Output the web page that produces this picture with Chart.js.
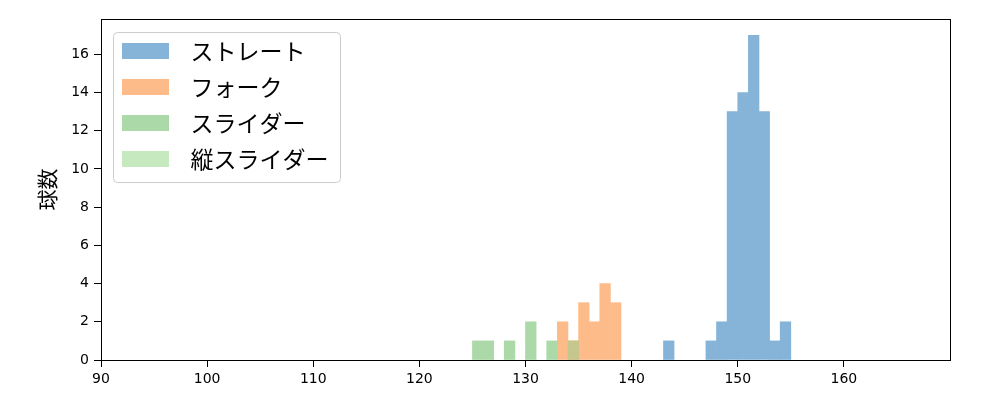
<!DOCTYPE html>
<html><head><meta charset="utf-8">
<script src="https://cdn.jsdelivr.net/npm/chart.js@4/dist/chart.umd.min.js"></script>
<style>html,body{margin:0;padding:0;background:#fff}#wrap{width:1000px;height:400px;position:relative}</style>
</head><body><div id="wrap"><canvas id="c" width="1000" height="400"></canvas></div>
<script>
// ---- data ----
const seriesNames = ['ストレート', 'フォーク', 'スライダー', '縦スライダー'];
const binWidth = 1;
const straightBins = [143, 147, 148, 149, 150, 151, 152, 153, 154];
const straightCounts = [1, 1, 2, 13, 14, 17, 13, 1, 2];
const forkBins = [133, 134, 135, 136, 137, 138];
const forkCounts = [2, 1, 3, 2, 4, 3];
const sliderBins = [125, 126, 128, 130, 132, 134];
const sliderCounts = [1, 1, 1, 2, 1, 1];
const vSliderBins = [];
const vSliderCounts = [];
const xTicks = [90, 100, 110, 120, 130, 140, 150, 160];
const yTicks = [0, 2, 4, 6, 8, 10, 12, 14, 16];
const xRange = [90, 170];
const yRange = [0, 17.85];
const yTitle = '球数';

// ---- styles ----
const colors = ['#85b4d8', '#fdbb8a', '#acd9a8', '#c7e9c0'];
const overlapColor = '#c5c78f';
const drawOrder = [3, 2, 1, 0];
const legendFont = {family: "'Noto Sans CJK JP', sans-serif", size: 23};
const tickFont = {family: "'DejaVu Sans', sans-serif", size: 14};
const LEG_PAD = 13, HANDLE_W = 47, HANDLE_H = 16, HANDLE_SLOT = 57;

function toPoints(bins, counts) {
  return bins.map((b, i) => ({x: b + binWidth / 2, y: counts[i]}));
}
const allBins = [[straightBins, straightCounts], [forkBins, forkCounts], [sliderBins, sliderCounts], [vSliderBins, vSliderCounts]];

function handleImage(color) {
  const cv = document.createElement('canvas');
  cv.width = HANDLE_SLOT; cv.height = HANDLE_H;
  const c = cv.getContext('2d');
  c.fillStyle = color;
  c.fillRect(0, 0, HANDLE_W, HANDLE_H);
  return cv;
}
const handles = colors.map(handleImage);

// colour for a bar: where a later series overlaps an earlier one, show the blended tone
function barColor(i) {
  return (ctx) => {
    const raw = ctx.raw;
    if (!raw) return colors[i];
    for (let j = 0; j < i; j++) {
      const idx = allBins[j][0].indexOf(raw.x - binWidth / 2);
      if (idx >= 0 && allBins[j][1][idx] > 0) return overlapColor;
    }
    return colors[i];
  };
}

const legendShift = {
  id: 'legendShift',
  afterLayout(chart) {
    const l = chart.legend, a = chart.chartArea;
    if (l) {
      const w = l.width, h = l.height;
      l.left = a.left + 8; l.top = a.top + 7.5;
      l.right = l.left + w; l.bottom = l.top + h;
    }
  }
};
const legendFrame = {
  id: 'legendFrame',
  beforeDraw(chart) {
    const l = chart.legend, ctx = chart.ctx;
    if (!l) return;
    ctx.save();
    ctx.font = legendFont.size + 'px ' + legendFont.family;
    let maxW = 0;
    seriesNames.forEach(n => { maxW = Math.max(maxW, ctx.measureText(n).width); });
    const hx = l.left + LEG_PAD;
    const r1 = l.top + LEG_PAD + legendFont.size / 2;
    const rowH = legendFont.size + LEG_PAD;
    const x0 = hx - 9, y0 = r1 - 19;
    const x1 = hx + HANDLE_SLOT + legendFont.size / 2 + maxW + 11;
    const y1 = r1 + rowH * (seriesNames.length - 1) + 23;
    ctx.beginPath();
    ctx.roundRect(Math.round(x0) + 0.5, Math.round(y0) + 0.5, Math.round(x1 - x0), Math.round(y1 - y0), 4);
    ctx.fillStyle = 'rgba(255,255,255,0.8)';
    ctx.fill();
    ctx.strokeStyle = '#cccccc';
    ctx.lineWidth = 1;
    ctx.stroke();
    ctx.restore();
  }
};
// top and right spines (left/bottom are the axis borders)
const frame = {
  id: 'frame',
  afterDatasetsDraw(chart) {
    const a = chart.chartArea, ctx = chart.ctx;
    const l = Math.round(a.left), r = Math.round(a.right), t = Math.round(a.top), b = Math.round(a.bottom);
    ctx.save();
    ctx.strokeStyle = '#000';
    ctx.lineWidth = 1;
    ctx.beginPath();
    ctx.moveTo(l, t + 0.5);
    ctx.lineTo(r + 1, t + 0.5);
    ctx.moveTo(r + 0.5, t);
    ctx.lineTo(r + 0.5, b + 1);
    ctx.stroke();
    ctx.restore();
  }
};

new Chart(document.getElementById('c'), {
  type: 'bar',
  data: {
    datasets: seriesNames.map((name, i) => ({
      label: name,
      data: toPoints(allBins[i][0], allBins[i][1]),
      backgroundColor: barColor(i),
      borderWidth: 0,
      barPercentage: 1,
      categoryPercentage: 1,
      grouped: false,
      order: drawOrder[i]
    }))
  },
  options: {
    responsive: false,
    animation: false,
    layout: {padding: {left: 0, right: 50, top: 19, bottom: 0}},
    plugins: {
      tooltip: {enabled: false},
      legend: {
        position: 'chartArea',
        align: 'start',
        labels: {
          usePointStyle: true,
          pointStyleWidth: HANDLE_SLOT,
          padding: LEG_PAD,
          color: '#000',
          font: legendFont,
          generateLabels: (chart) => seriesNames.map((n, i) => ({
            text: n, fillStyle: colors[i], strokeStyle: 'rgba(0,0,0,0)', lineWidth: 0,
            pointStyle: handles[i], hidden: false, datasetIndex: i
          }))
        }
      }
    },
    scales: {
      x: {
        type: 'linear',
        min: xRange[0], max: xRange[1],
        offset: false,
        afterBuildTicks: s => { s.ticks = xTicks.map(v => ({value: v})); },
        afterFit: s => { s.height = 40; },
        ticks: {color: '#000', font: tickFont, padding: 4, maxRotation: 0, autoSkip: false, callback: v => String(v)},
        grid: {display: true, offset: false, drawOnChartArea: false, drawTicks: true, tickLength: 7, tickColor: '#000', tickWidth: 1},
        border: {display: true, color: '#000', width: 1}
      },
      y: {
        type: 'linear',
        min: yRange[0], max: yRange[1],
        afterBuildTicks: s => { s.ticks = yTicks.map(v => ({value: v})); },
        afterFit: s => { s.width = 101; },
        ticks: {color: '#000', font: tickFont, padding: 5, autoSkip: false, callback: v => String(v)},
        grid: {display: true, drawOnChartArea: false, drawTicks: true, tickLength: 7, tickColor: '#000', tickWidth: 1},
        border: {display: true, color: '#000', width: 1},
        title: {display: true, text: yTitle, color: '#000', font: {family: "'Noto Sans CJK JP', sans-serif", size: 21}, padding: {top: 34, bottom: 0}}
      }
    }
  },
  plugins: [legendShift, legendFrame, frame]
});
</script></body></html>
